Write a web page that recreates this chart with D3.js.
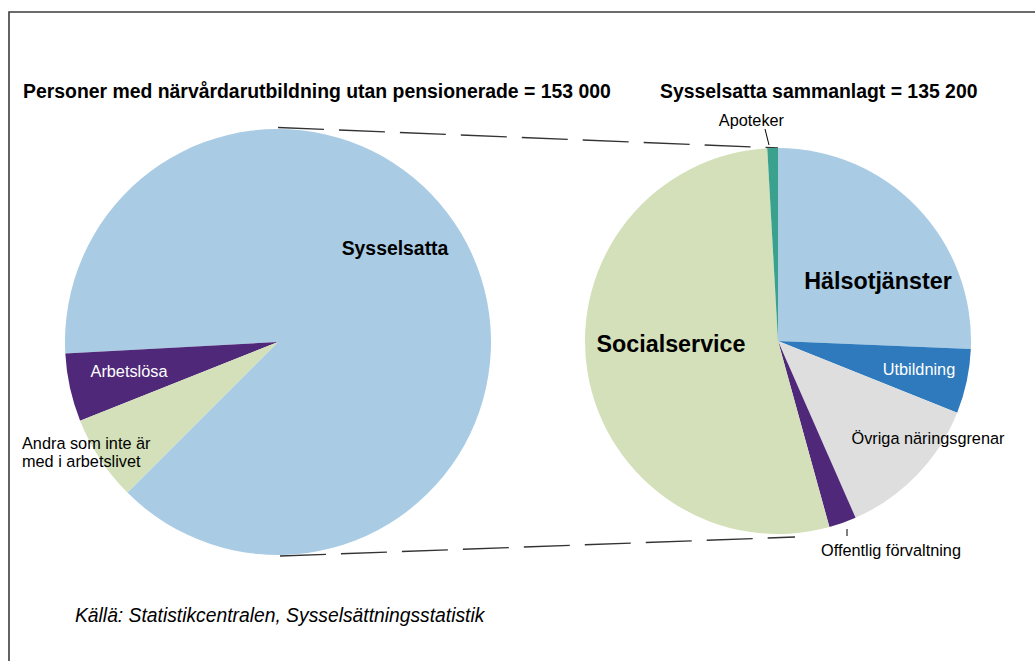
<!DOCTYPE html>
<html>
<head>
<meta charset="utf-8">
<script src="https://cdn.jsdelivr.net/npm/d3@7/dist/d3.min.js"></script>
<style>
  html, body { margin: 0; padding: 0; background: #fff; }
  svg text { font-family: "Liberation Sans", Arial, Helvetica, sans-serif; }
</style>
</head>
<body>
<svg id="chart" width="1035" height="661"></svg>
<script>
// ---- Data ----
const leftTitle = "Personer med närvårdarutbildning utan pensionerade = 153 000";
const rightTitle = "Sysselsatta sammanlagt = 135 200";
const sourceText = "Källä: Statistikcentralen, Sysselsättningsstatistik";

const leftCategories = ["Sysselsatta", "Arbetslösa", "Andra som inte är med i arbetslivet"];
const leftValues = [135200, 7900, 9900];

const rightCategories = ["Hälsotjänster", "Utbildning", "Övriga näringsgrenar", "Offentlig förvaltning", "Socialservice", "Apoteker"];
const rightValues = [34700, 7300, 16700, 3100, 72200, 1200];

// ---- Styles ----
const leftColors = ["#a9cce4", "#4f287a", "#d3e0b9"];
const rightColors = ["#a9cce4", "#2e7abd", "#dedede", "#4f287a", "#d3e0b9", "#3aa18f"];

const svg = d3.select("#chart");
const W = 1035, H = 661;

// frame
svg.append("path")
  .attr("d", `M9,${H} V12 H${W}`)
  .attr("fill", "none").attr("stroke", "#3c3c3c").attr("stroke-width", 1.6);

// geometry
const L = {cx: 278, cy: 342, r: 213};
const R = {cx: 778, cy: 341, r: 193};
const deg = Math.PI / 180;

// Left pie: drawn counter-clockwise starting at 225deg
const leftPie = d3.pie().sort(null).value(d => d)
  .startAngle(225 * deg).endAngle(225 * deg - 2 * Math.PI);
const rightPie = d3.pie().sort(null).value(d => d)
  .startAngle(0).endAngle(2 * Math.PI);

const leftArc = d3.arc().innerRadius(0).outerRadius(L.r);
const rightArc = d3.arc().innerRadius(0).outerRadius(R.r);

// connector (series) lines
const conn = svg.append("g").attr("fill", "none").attr("stroke", "#333")
  .attr("stroke-width", 1.3).attr("stroke-dasharray", "46,15");
conn.append("line")
  .attr("x1", L.cx).attr("y1", L.cy - L.r - 1.5)
  .attr("x2", R.cx).attr("y2", R.cy - R.r);
conn.append("line")
  .attr("x1", L.cx + 2).attr("y1", L.cy + L.r + 1)
  .attr("x2", R.cx + 17).attr("y2", R.cy + R.r + 3);

const gL = svg.append("g").attr("transform", `translate(${L.cx},${L.cy})`);
gL.selectAll("path").data(leftPie(leftValues)).join("path")
  .attr("d", leftArc).attr("fill", (d, i) => leftColors[i]);

const gR = svg.append("g").attr("transform", `translate(${R.cx},${R.cy})`);
gR.selectAll("path").data(rightPie(rightValues)).join("path")
  .attr("d", rightArc).attr("fill", (d, i) => rightColors[i]);

// titles
svg.append("text").attr("x", 23).attr("y", 98)
  .attr("font-size", 19.4).attr("font-weight", "bold").text(leftTitle);
svg.append("text").attr("x", 660).attr("y", 98)
  .attr("font-size", 19.4).attr("font-weight", "bold").text(rightTitle);

// labels (offsets relative to pie centre)
const small = 16.3, big = 19.4, bigger = 23.3;
function label(g, x, y, txt, opt) {
  const t = g.append("text").attr("x", x).attr("y", y).attr("dy", "0.35em")
    .attr("font-size", opt.size || small)
    .attr("font-weight", opt.bold ? "bold" : "normal")
    .attr("fill", opt.fill || "#000")
    .attr("text-anchor", opt.anchor || "middle")
    .text(txt);
  return t;
}
label(gL, 117, -94, leftCategories[0], {bold: true, size: big});
label(gL, -149, 29, leftCategories[1], {fill: "#fff"});
label(gL, -256, 101, "Andra som inte är", {anchor: "start"});
label(gL, -256, 119.5, "med i arbetslivet", {anchor: "start"});

label(gR, 100, -60, rightCategories[0], {bold: true, size: bigger});
label(gR, 141, 28, rightCategories[1], {fill: "#fff"});
label(gR, 150, 97, rightCategories[2], {});
label(gR, 113, 209, rightCategories[3], {});
label(gR, -107, 3, rightCategories[4], {bold: true, size: bigger});
label(gR, 6, -221, rightCategories[5], {anchor: "end"});

// leader lines
gR.append("line").attr("x1", 69).attr("y1", 188).attr("x2", 69).attr("y2", 195)
  .attr("stroke", "#000").attr("stroke-width", 1);
gR.append("line").attr("x1", -13).attr("y1", -212).attr("x2", -9).attr("y2", -196)
  .attr("stroke", "#000").attr("stroke-width", 1);

// source
svg.append("text").attr("x", 75).attr("y", 622)
  .attr("font-size", 19.3).attr("font-style", "italic").text(sourceText);
</script>
</body>
</html>
